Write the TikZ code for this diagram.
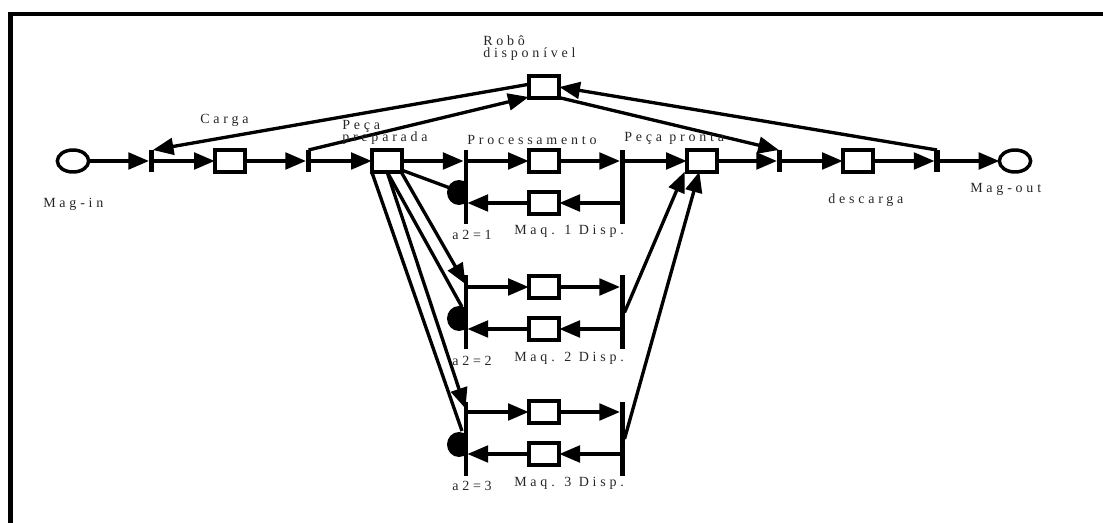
\documentclass[tikz,border=0pt]{standalone}
\usepackage{fontspec}
\setmainfont{Liberation Serif}
\newfontfamily\lab[LetterSpace=27]{Liberation Serif}
\usetikzlibrary{arrows.meta,shapes.geometric}
\tikzset{
  x=0.75pt,y=-0.75pt,
  placebox/.style={draw=black,line width=3pt,fill=white,minimum width=23pt,minimum height=16pt,inner sep=0pt,outer sep=0pt},
  stock/.style={draw=black,ellipse,line width=2.6pt,fill=white,minimum width=23.5pt,minimum height=16.5pt,inner sep=0pt,outer sep=0pt},
  tbar/.style={fill=black,minimum width=3.8pt,minimum height=16.5pt,inner sep=0pt,outer sep=0pt},
  tallbar/.style={fill=black,minimum width=3.8pt,minimum height=55.5pt,inner sep=0pt,outer sep=0pt},
  slimbar/.style={fill=black,minimum width=3pt,minimum height=55.5pt,inner sep=0pt,outer sep=0pt},
  flow/.style={draw=black,line width=2.5pt,-{Triangle[length=15.5pt,width=12.5pt]}},
  plainflow/.style={draw=black,line width=2.5pt},
  txt/.style={font=\fontsize{10.5pt}{10.5pt}\selectfont\lab,text=black!85,inner sep=0pt},
  txtl/.style={txt,anchor=base west},
}
\begin{document}
\begin{tikzpicture}
\useasboundingbox (0,0) rectangle (1103,523);
\path[draw=black,line width=3.3pt] (1103,14) -- (10.3,14) -- (10.3,523);
% places
\node[stock] (min) at (73,161) {};
\node[stock] (mout) at (1015,161) {};
\node[placebox] (carga) at (230,161) {};
\node[placebox] (prep) at (387,161) {};
\node[placebox] (proc1) at (544,161) {};
\node[placebox] (maq1) at (544,203) {};
\node[placebox] (proc2) at (544,287) {};
\node[placebox] (maq2) at (544,329) {};
\node[placebox] (proc3) at (544,412) {};
\node[placebox] (maq3) at (544,454) {};
\node[placebox] (pronta) at (702,161) {};
\node[placebox] (desc) at (858,161) {};
\node[placebox] (robo) at (544,87) {};
% bars
\node[tbar] (t1) at (151.5,161) {};
\node[tbar] (t2) at (308.5,161) {};
\node[tbar] (t5) at (779.5,161) {};
\node[tbar] (t6) at (937,161) {};
\node[slimbar] (a1) at (465.5,187) {};
\node[slimbar] (a2) at (465.5,312.5) {};
\node[slimbar] (a3) at (465.5,439) {};
\node[tallbar] (b1) at (622.5,187) {};
\node[tallbar] (b2) at (622.5,312.5) {};
\node[tallbar] (b3) at (622.5,439) {};
% inhibitors
\begin{scope}
\clip (440,170) rectangle (467,470);
\fill (459,192.5) ellipse [x radius=12,y radius=12.5];
\fill (459,318.5) ellipse [x radius=12,y radius=12.5];
\fill (459,444.5) ellipse [x radius=12,y radius=12.5];
\end{scope}
\coordinate (i1) at (450,188);
\coordinate (i2) at (462,307);
\coordinate (i3) at (462,431);
% main line
\draw[flow] (min) -- (t1.west);
\draw[flow] (t1) -- (carga);
\draw[flow] (carga) -- (t2.west);
\draw[flow] (t2) -- (prep);
\draw[flow] (prep) -- (a1.west |- prep);
\draw[flow] (a1 |- proc1) -- (proc1);
\draw[flow] (proc1) -- (b1.west |- proc1);
\draw[flow] (b1 |- pronta) -- (pronta);
\draw[flow] (pronta) -- (t5.west);
\draw[flow] (t5) -- (desc);
\draw[flow] (desc) -- (t6.west);
\draw[flow] (t6) -- (mout);
\draw[flow] (b1 |- maq1) -- (maq1);
\draw[flow] (maq1) -- (a1.east |- maq1);
\draw[flow] (a2 |- proc2) -- (proc2);
\draw[flow] (proc2) -- (b2.west |- proc2);
\draw[flow] (b2 |- maq2) -- (maq2);
\draw[flow] (maq2) -- (a2.east |- maq2);
\draw[flow] (a3 |- proc3) -- (proc3);
\draw[flow] (proc3) -- (b3.west |- proc3);
\draw[flow] (b3 |- maq3) -- (maq3);
\draw[flow] (maq3) -- (a3.east |- maq3);
% robot arcs
\draw[flow] ([yshift=2pt]robo.west) -- ([xshift=1pt]t1.north);
\draw[flow] (t2.north) -- ([yshift=-7.5pt]robo.west);
\draw[flow] ([yshift=-8pt]robo.east) -- ([xshift=-0.5pt]t5.north);
\draw[flow] (t6.north) -- (robo.east);
% branching
\draw[plainflow] ([yshift=1pt]prep.south east) -- (i1);
\draw[flow] ([xshift=-1pt]prep.south east) -- ([yshift=-6.5pt]a2.north);
\draw[plainflow] (prep.south) -- (i2);
\draw[flow] (prep.south) -- ([yshift=-5pt]a3.north);
\draw[plainflow] (prep.south west) -- (i3);
% to pronta
\draw[flow] ([xshift=1.5pt]b2.center) -- ([xshift=-13pt]pronta.south);
\draw[flow] ([xshift=1.5pt]b3.center) -- ([xshift=-2pt]pronta.south);
% labels
\node[txtl] (lmi) at (43,208) {Mag-in};
\node[txtl] (lca) at (200,124) {Carga};
\node[txtl] (lp1) at (342,130) {Peça};
\node[txtl] (lp2) at (342,142) {preparada};
\node[txtl] (lr1) at (483,46) {Robô};
\node[txtl] (lr2) at (483,58) {disponível};
\node[txtl] (lpr) at (467,145) {Processamento};
\node[txtl] (lpp) at (624,142) {Peça pronta};
\node[txtl] (lm1) at (514,235) {Maq. 1 Disp.};
\node[txtl] (lm2) at (514,362) {Maq. 2 Disp.};
\node[txtl] (lm3) at (514,487) {Maq. 3 Disp.};
\node[txtl] (la1) at (452,240) {a2=1};
\node[txtl] (la2) at (452,366) {a2=2};
\node[txtl] (la3) at (452,491) {a2=3};
\node[txtl] (lde) at (828,204) {descarga};
\node[txtl] (lmo) at (970,193) {Mag-out};
\end{tikzpicture}
\end{document}
